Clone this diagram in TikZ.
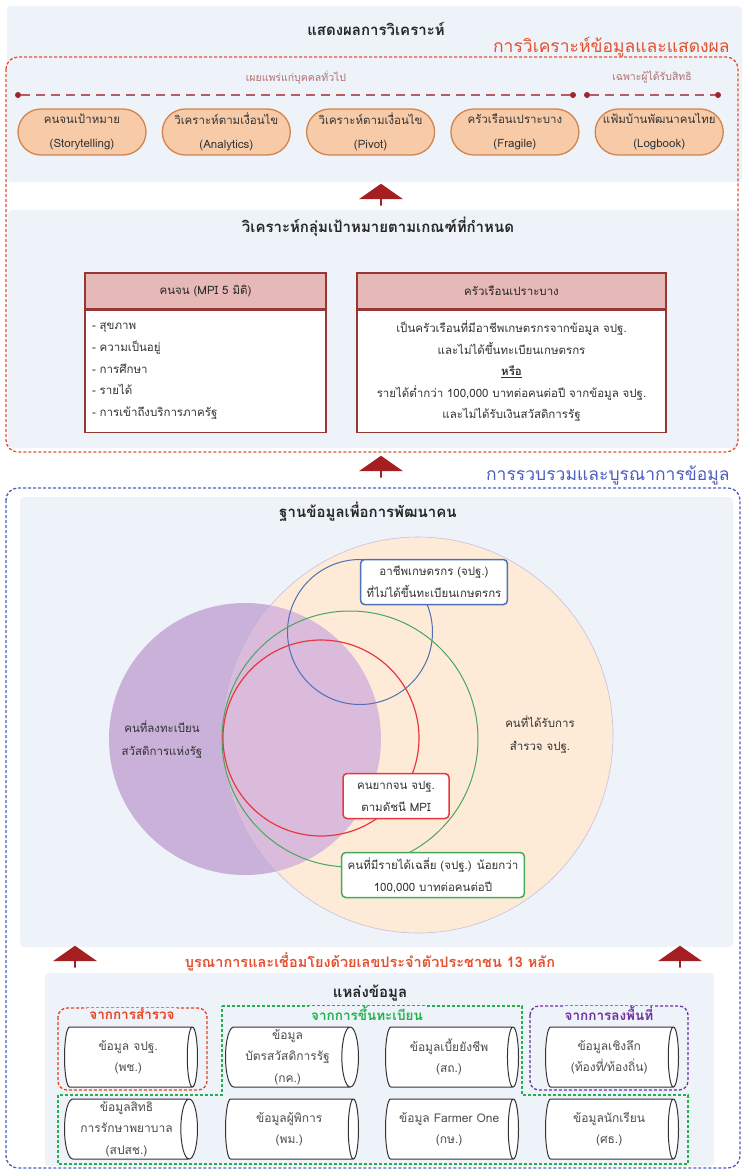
\documentclass[tikz,border=0pt]{standalone}
\usepackage{fontspec}
\setmainfont[Script=Thai]{Loma}
\usetikzlibrary{arrows.meta, positioning, shapes.geometric, shapes.arrows}
\definecolor{thpanel}{HTML}{EEF2F9}
\definecolor{secred}{HTML}{E2512F}
\definecolor{secblue}{HTML}{4B5DBF}
\definecolor{arrred}{HTML}{A51F22}
\definecolor{pillfill}{HTML}{F8CBA8}
\definecolor{pilldraw}{HTML}{D2844C}
\definecolor{audline}{HTML}{B85B62}
\definecolor{auddot}{HTML}{A0232E}
\definecolor{audtext}{HTML}{B07070}
\definecolor{hdrfill}{HTML}{E6B9B8}
\definecolor{hdrdraw}{HTML}{953735}
\definecolor{peachfill}{HTML}{FDEBD8}
\definecolor{peachrim}{HTML}{B8A9DA}
\definecolor{welffill}{HTML}{C9B1D9}
\definecolor{welfover}{HTML}{DBBBDB}
\definecolor{ringblue}{HTML}{4F6FB8}
\definecolor{ringgreen}{HTML}{47A85A}
\definecolor{ringred}{HTML}{E8383D}
\definecolor{grpred}{HTML}{E8401C}
\definecolor{grpgreen}{HTML}{22B14C}
\definecolor{grppurple}{HTML}{7030A0}
\tikzset{
  thmap/.style={
    x=1pt, y=-1pt,
    font=\fontsize{11.5}{22}\selectfont,
    line width=0.8pt,
  },
  panel/.style={fill=thpanel, rounded corners=4pt},
  paneltitle/.style={font=\bfseries\fontsize{15}{18}\selectfont, text=black!85},
  sectitle/.style={font=\fontsize{17.5}{20}\selectfont, anchor=east, inner sep=1pt},
  secbox/.style={dash pattern=on 3pt off 2pt, line width=1.3pt, rounded corners=12pt},
  audience/.style={text=audtext, font=\fontsize{10.5}{12}\selectfont},
  enddot/.style={circle, fill=auddot, inner sep=0pt, minimum size=6pt},
  audpath/.style={draw=audline, line width=2.2pt, dash pattern=on 9pt off 6pt},
  pill/.style={
    draw=pilldraw, fill=pillfill, line width=1.3pt, rounded corners=23pt,
    minimum width=128pt, minimum height=46pt, align=center, inner sep=1pt,
    text=black!80, font=\fontsize{11.5}{24}\selectfont,
  },
  uparrow/.style={
    single arrow, rotate=90, fill=arrred, inner sep=0pt,
    minimum height=22pt, minimum width=44pt, single arrow head extend=11pt,
    single arrow tip angle=110,
  },
  tblhead/.style={
    draw=hdrdraw, fill=hdrfill, line width=1.2pt, minimum height=36pt,
    text=black!85, font=\fontsize{11.5}{14}\selectfont,
  },
  tblbody/.style={
    draw=hdrdraw, fill=white, line width=1.2pt, minimum height=122pt,
    inner xsep=7pt, text=black!80, font=\fontsize{11.5}{21.6}\selectfont,
  },
  vring/.style={circle, inner sep=0pt, line width=1pt},
  vlabel/.style={
    fill=white, rounded corners=4pt, line width=1.5pt, align=center,
    minimum height=45pt, inner xsep=6pt, inner ysep=1pt, text=black!80,
    font=\fontsize{11.5}{22}\selectfont,
  },
  vtext/.style={align=center, text=black!80, font=\fontsize{11.5}{23}\selectfont},
  linktext/.style={text=secred, font=\bfseries\fontsize{14.5}{17}\selectfont},
  grpbox/.style={dash pattern=on 3pt off 2pt, line width=1.3pt},
  grplbl/.style={fill=thpanel, inner xsep=2pt, inner ysep=0pt, font=\bfseries\fontsize{13.5}{15}\selectfont},
  dbcyl/.style={
    cylinder, draw=black!80, fill=white, aspect=0.3, line width=1pt,
    minimum width=60pt, minimum height=133pt, align=center, inner sep=0pt,
    text=black!70, font=\fontsize{12}{21.5}\selectfont, anchor=shape center,
  },
}
\begin{document}
\begin{tikzpicture}[thmap]
  \useasboundingbox (0,0) rectangle (742,1173);

  % light panels
  \fill[panel] (7,6) rectangle (742,182);
  \fill[panel] (8,210) rectangle (738,448);
  \fill[panel] (20,497) rectangle (733,947);
  \fill[panel] (45,973) rectangle (714,1166);

  % --- analysis and display
  \node[paneltitle] (showtitle) at (376,29) {แสดงผลการวิเคราะห์};
  \node[sectitle, text=secred] (analysistitle) at (731,47) {การวิเคราะห์ข้อมูลและแสดงผล};
  \draw[secbox, draw=secred] (6,57) rectangle (738,452);

  \node[audience] (publbl) at (296,77) {เผยแพร่แก่บุคคลทั่วไป};
  \node[audience] (privlbl) at (652,77) {เฉพาะผู้ได้รับสิทธิ};
  \node[enddot] (pubL) at (18,95) {};
  \node[enddot] (pubR) at (573,95) {};
  \node[enddot] (privL) at (587,95) {};
  \node[enddot] (privR) at (718,95) {};
  \draw[audpath] (pubL) -- (pubR);
  \draw[audpath] (privL) -- (privR);

  \node[pill] (story) at (82,132) {คนจนเป้าหมาย\\(Storytelling)};
  \node[pill, right=15pt of story] (analytics) {วิเคราะห์ตามเงื่อนไข\\(Analytics)};
  \node[pill, right=15pt of analytics] (pivot) {วิเคราะห์ตามเงื่อนไข\\(Pivot)};
  \node[pill, right=15pt of pivot] (fragile) {ครัวเรือนเปราะบาง\\(Fragile)};
  \node[pill, right=15pt of fragile] (logbook) {แฟ้มบ้านพัฒนาคนไทย\\(Logbook)};

  \node[uparrow] (upA) at (381,195) {};

  \node[paneltitle] (criteria) at (378,227) {วิเคราะห์กลุ่มเป้าหมายตามเกณฑ์ที่กำหนด};
  \node[tblhead, minimum width=241pt] (mpihead) at (205.5,291) {คนจน (MPI 5 มิติ)};
  \node[tblbody, text width=227pt, align=left, below=0pt of mpihead] (mpibody)
    {- สุขภาพ\\- ความเป็นอยู่\\- การศึกษา\\- รายได้\\- การเข้าถึงบริการภาครัฐ};
  \node[tblhead, minimum width=309pt] (fraghead) at (511.5,291) {ครัวเรือนเปราะบาง};
  \node[tblbody, text width=295pt, align=center, below=0pt of fraghead] (fragbody)
    {เป็นครัวเรือนที่มีอาชีพเกษตรกรจากข้อมูล จปฐ.\\และไม่ได้ขึ้นทะเบียนเกษตรกร\\\underline{\textbf{หรือ}}\\รายได้ต่ำกว่า 100,000 บาทต่อคนต่อปี จากข้อมูล จปฐ.\\และไม่ได้รับเงินสวัสดิการรัฐ};

  \node[uparrow] (upB) at (381,467) {};

  % --- collection and integration
  \node[sectitle, text=secblue] (collecttitle) at (731,475) {การรวบรวมและบูรณาการข้อมูล};
  \draw[secbox, draw=secblue] (6,488) rectangle (740,1168);
  \node[paneltitle] (hdb) at (368,512) {ฐานข้อมูลเพื่อการพัฒนาคน};

  \node[circle, fill=welffill, minimum size=272pt, inner sep=0pt] (welfset) at (245,739) {};
  \node[ellipse, fill=peachfill, minimum width=390pt, minimum height=396pt,
    inner sep=0pt] (surveyset) at (418,735) {};
  \begin{scope}
    \clip (418,735) ellipse [x radius=194.5, y radius=197.5];
    \fill[welfover] (245,739) circle [radius=136];
  \end{scope}
  \draw[peachrim, line width=0.6pt, opacity=0.7] (418,735) ellipse [x radius=195, y radius=198];
  \node[vring, draw=ringblue, minimum size=145pt] (farmset) at (360,632) {};
  \node[vring, draw=ringgreen, minimum size=256pt] (incomeset) at (350,739) {};
  \node[vring, draw=ringred, line width=1.2pt, minimum size=196pt] (poorset) at (321,738) {};

  \node[vlabel, draw=ringblue] (farmlbl) at (434,582) {อาชีพเกษตรกร (จปฐ.)\\ที่ไม่ได้ขึ้นทะเบียนเกษตรกร};
  \node[vlabel, draw=ringred, minimum width=106pt] (poorlbl) at (396,796) {คนยากจน จปฐ.\\ตามดัชนี MPI};
  \node[vlabel, draw=ringgreen] (incomelbl) at (433,875) {คนที่มีรายได้เฉลี่ย (จปฐ.) น้อยกว่า\\100,000 บาทต่อคนต่อปี};
  \node[vtext] (welflbl) at (162,740) {คนที่ลงทะเบียน\\สวัสดิการแห่งรัฐ};
  \node[vtext] (surveylbl) at (540,735) {คนที่ได้รับการ\\สำรวจ จปฐ.};

  \node[uparrow] (upC) at (75,957) {};
  \node[uparrow] (upD) at (680,957) {};
  \node[linktext] (linkid) at (370,962) {บูรณาการและเชื่อมโยงด้วยเลขประจำตัวประชาชน 13 หลัก};

  % --- data sources
  \node[paneltitle] (sources) at (370,993) {แหล่งข้อมูล};
  \draw[grpbox, draw=grpred, rounded corners=9pt] (58,1008) rectangle (207,1090);
  \draw[grpbox, draw=grppurple, rounded corners=9pt] (530,1006) rectangle (688,1090);
  \draw[grpbox, draw=grpgreen] (222,1006) -- (522,1006) -- (522,1095) -- (688,1095)
    -- (688,1164) -- (58,1164) -- (58,1095) -- (222,1095) -- cycle;
  \node[grplbl, text=grpred] (surveygrp) at (132,1014) {จากการสำรวจ};
  \node[grplbl, text=grpgreen] (reggrp) at (367,1013) {จากการขึ้นทะเบียน};
  \node[grplbl, text=grppurple] (fieldgrp) at (609,1013) {จากการลงพื้นที่};

  \node[dbcyl] (jpt) at (131,1057) {ข้อมูล จปฐ.\\(พช.)};
  \node[dbcyl] (welfcard) at (292,1057) {ข้อมูล\\บัตรสวัสดิการรัฐ\\(กค.)};
  \node[dbcyl] (allow) at (452,1057) {ข้อมูลเบี้ยยังชีพ\\(สถ.)};
  \node[dbcyl] (deep) at (612,1057) {ข้อมูลเชิงลึก\\(ท้องที่/ท้องถิ่น)};
  \node[dbcyl] (health) at (131,1129) {ข้อมูลสิทธิ\\การรักษาพยาบาล\\(สปสช.)};
  \node[dbcyl] (disab) at (292,1129) {ข้อมูลผู้พิการ\\(พม.)};
  \node[dbcyl] (farmer) at (452,1129) {ข้อมูล Farmer One\\(กษ.)};
  \node[dbcyl] (student) at (612,1129) {ข้อมูลนักเรียน\\(ศธ.)};
\end{tikzpicture}
\end{document}
